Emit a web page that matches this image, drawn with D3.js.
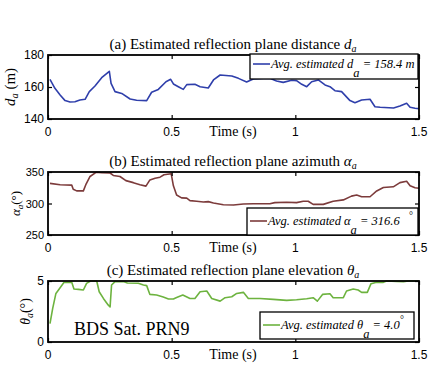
<!DOCTYPE html>
<html>
<head>
<meta charset="utf-8">
<script src="https://cdn.jsdelivr.net/npm/d3@7"></script>
<style>
  body { margin: 0; background: #fff; }
  text { fill: #000; }
  .tick-label { font-family: "Liberation Sans", Arial, sans-serif; font-size: 12px; }
  .serif { font-family: "Liberation Serif", "Times New Roman", serif; }
</style>
</head>
<body>
<div id="chart"></div>
<script>
// Time axis ticks shared by all three panels
var xTicks = [0, 0.5, 1, 1.5];
var xTickLabels = ["0", "0.5", "1", "1.5"];

// (a) reflection plane distance d_a (m)
var timeA = [0.008, 0.028, 0.049, 0.069, 0.089, 0.109, 0.129, 0.150, 0.167, 0.190, 0.217, 0.248, 0.255, 0.271, 0.298, 0.332, 0.358, 0.399, 0.419, 0.446, 0.477, 0.496, 0.507, 0.527, 0.547, 0.561, 0.594, 0.615, 0.648, 0.669, 0.696, 0.743, 0.770, 0.803, 0.830, 0.871, 0.897, 0.924, 0.951, 0.985, 1.005, 1.026, 1.046, 1.066, 1.093, 1.120, 1.140, 1.160, 1.187, 1.221, 1.241, 1.268, 1.302, 1.322, 1.343, 1.397, 1.423, 1.450, 1.464, 1.484, 1.500];
var distA = [164.8, 159.2, 155.0, 151.5, 150.6, 150.8, 151.9, 152.3, 157.1, 160.6, 165.8, 169.8, 162.3, 157.1, 156.0, 152.5, 151.7, 151.5, 156.7, 158.5, 163.3, 164.8, 161.9, 160.2, 158.5, 161.5, 161.7, 160.2, 159.4, 164.4, 167.5, 166.9, 165.4, 163.1, 165.0, 165.4, 165.4, 163.8, 162.9, 164.2, 164.0, 161.7, 160.2, 163.3, 164.4, 161.3, 160.2, 157.7, 157.1, 151.5, 150.2, 151.9, 152.3, 147.7, 147.3, 146.9, 148.1, 149.8, 147.3, 146.7, 146.5];
var yTicksA = [140, 160, 180];

// (b) reflection plane azimuth alpha_a (deg)
var timeB = [0.008, 0.049, 0.096, 0.102, 0.116, 0.143, 0.154, 0.170, 0.194, 0.217, 0.251, 0.264, 0.291, 0.315, 0.345, 0.372, 0.396, 0.412, 0.433, 0.453, 0.469, 0.498, 0.507, 0.520, 0.540, 0.561, 0.574, 0.601, 0.628, 0.648, 0.669, 0.709, 0.750, 0.790, 0.830, 0.897, 0.917, 0.965, 1.005, 1.032, 1.052, 1.072, 1.113, 1.153, 1.194, 1.227, 1.248, 1.268, 1.302, 1.329, 1.356, 1.396, 1.423, 1.450, 1.464, 1.484, 1.500];
var azimB = [332.0, 329.8, 329.2, 322.7, 320.0, 320.0, 330.9, 342.9, 349.5, 348.9, 348.4, 344.5, 342.9, 336.3, 333.1, 329.8, 327.6, 337.4, 340.2, 341.8, 345.6, 347.3, 328.1, 313.4, 309.0, 308.5, 304.6, 303.6, 302.5, 303.0, 300.8, 298.1, 297.5, 299.2, 299.7, 299.7, 301.4, 301.9, 301.4, 303.6, 303.6, 298.6, 298.6, 303.6, 305.7, 311.7, 313.4, 310.7, 310.7, 319.9, 325.4, 326.5, 333.1, 335.2, 328.1, 324.9, 324.3];
var yTicksB = [250, 300, 350];

// (c) reflection plane elevation theta_a (deg)
var timeC = [0.008, 0.019, 0.032, 0.049, 0.065, 0.096, 0.105, 0.123, 0.143, 0.156, 0.172, 0.197, 0.207, 0.224, 0.244, 0.251, 0.257, 0.271, 0.305, 0.321, 0.365, 0.386, 0.399, 0.412, 0.439, 0.466, 0.487, 0.507, 0.520, 0.545, 0.574, 0.594, 0.615, 0.642, 0.662, 0.696, 0.716, 0.743, 0.763, 0.790, 0.810, 0.857, 0.911, 0.965, 1.005, 1.046, 1.072, 1.089, 1.110, 1.140, 1.153, 1.194, 1.207, 1.234, 1.254, 1.268, 1.291, 1.306, 1.329, 1.356, 1.369, 1.410, 1.437, 1.457, 1.500];
var elevC = [1.51, 2.75, 3.98, 4.45, 4.89, 4.89, 4.34, 4.31, 4.26, 4.81, 5.0, 5.0, 4.12, 3.57, 3.02, 2.88, 4.67, 4.95, 4.95, 4.84, 4.81, 4.67, 4.62, 3.90, 3.85, 3.68, 3.52, 3.52, 3.65, 3.85, 3.57, 3.57, 4.12, 4.18, 3.57, 3.35, 3.63, 3.71, 3.98, 4.07, 3.57, 3.57, 3.49, 3.41, 3.46, 3.54, 3.63, 3.35, 3.90, 3.96, 3.63, 3.63, 4.18, 4.34, 4.26, 4.07, 4.07, 4.78, 4.89, 4.89, 5.0, 4.97, 4.95, 5.0, 5.0];
var yTicksC = [0, 5];

var svgWidth = 428;
var svgHeight = 366;

var svg = d3.select("#chart")
    .append("svg")
    .attr("width", svgWidth)
    .attr("height", svgHeight);

var left = 48, right = 419;

var xScale = d3.scaleLinear()
    .domain([0, 1.5])
    .range([left, right]);

function drawPanel(p) {
    var yScale = d3.scaleLinear()
        .domain(p.yDomain)
        .range([p.bottom, p.top]);

    var g = svg.append("g");

    // curve
    var line = d3.line()
        .x(function(d) { return xScale(d[0]); })
        .y(function(d) { return yScale(d[1]); });
    g.append("path")
        .datum(d3.zip(p.t, p.v))
        .attr("d", line)
        .attr("fill", "none")
        .attr("stroke", p.color)
        .attr("stroke-width", 1.6)
        .attr("stroke-linejoin", "round");

    // axes: inward ticks on all four sides (box on)
    g.append("g")
        .attr("transform", "translate(0," + p.bottom + ")")
        .call(d3.axisBottom(xScale).tickValues(xTicks).tickSize(-4).tickFormat(""));
    g.append("g")
        .attr("transform", "translate(0," + p.top + ")")
        .call(d3.axisTop(xScale).tickValues(xTicks).tickSize(-4).tickFormat(""));
    g.append("g")
        .attr("transform", "translate(" + left + ",0)")
        .call(d3.axisLeft(yScale).tickValues(p.yTicks).tickSize(-4).tickFormat(""));
    g.append("g")
        .attr("transform", "translate(" + right + ",0)")
        .call(d3.axisRight(yScale).tickValues(p.yTicks).tickSize(-4).tickFormat(""));
    g.selectAll(".domain").remove();
    g.selectAll(".tick line").attr("stroke", "#000").attr("stroke-width", 1.2);

    g.append("rect")
        .attr("x", left)
        .attr("y", p.top)
        .attr("width", right - left)
        .attr("height", p.bottom - p.top)
        .attr("fill", "none")
        .attr("stroke", "#000")
        .attr("stroke-width", 1.8);

    // tick labels
    g.selectAll(".xlab")
        .data(xTicks)
        .enter()
        .append("text")
        .attr("class", "tick-label")
        .attr("x", function(d) { return xScale(d); })
        .attr("y", p.bottom + 17)
        .attr("text-anchor", "middle")
        .text(function(d, i) { return xTickLabels[i]; });

    g.selectAll(".ylab")
        .data(p.yTicks)
        .enter()
        .append("text")
        .attr("class", "tick-label")
        .attr("x", left - 4)
        .attr("y", function(d) { return yScale(d) + 4; })
        .attr("text-anchor", "end")
        .style("font-size", p.yTickSize + "px")
        .text(function(d) { return d; });

    // x label sits on the tick label row
    g.append("text")
        .attr("class", "serif")
        .attr("x", 233)
        .attr("y", p.bottom + 17)
        .attr("text-anchor", "middle")
        .style("font-size", "14px")
        .text("Time (s)");

    // title
    var title = g.append("text")
        .attr("class", "serif")
        .attr("x", 233)
        .attr("y", p.top - 6)
        .attr("text-anchor", "middle")
        .style("font-size", "15px");
    title.append("tspan").text(p.title + " ");
    title.append("tspan").style("font-style", "italic").text(p.sym);
    title.append("tspan").attr("dy", 3).style("font-size", "10px").style("font-style", "italic").text("a");

    // y label
    var ylab = g.append("text")
        .attr("class", "serif")
        .attr("transform", "translate(" + p.ylabX + "," + ((p.top + p.bottom) / 2) + ") rotate(-90)")
        .attr("text-anchor", "middle")
        .style("font-size", p.ylabSize + "px");
    ylab.append("tspan").style("font-style", "italic").text(p.sym);
    ylab.append("tspan").attr("dy", 3).style("font-size", (p.ylabSize * 0.7) + "px").style("font-style", "italic").text("a");
    ylab.append("tspan").attr("dy", -3).text(p.unit);

    // legend
    var lg = p.legend;
    g.append("rect")
        .attr("x", lg.x0)
        .attr("y", lg.y0)
        .attr("width", lg.x1 - lg.x0)
        .attr("height", lg.y1 - lg.y0)
        .attr("fill", "#fff")
        .attr("stroke", "#000")
        .attr("stroke-width", 1.3);
    g.append("line")
        .attr("x1", lg.x0 + 3)
        .attr("x2", lg.x0 + 20)
        .attr("y1", lg.lineY)
        .attr("y2", lg.lineY)
        .attr("stroke", p.color)
        .attr("stroke-width", 1.6);
    var lt = g.append("text")
        .attr("class", "serif")
        .attr("x", lg.x0 + 21)
        .attr("y", lg.lineY + 4)
        .style("font-size", "12.5px")
        .style("font-style", "italic");
    lt.append("tspan").text("Avg. estimated " + p.sym);
    lt.append("tspan").attr("dy", 9).text("a");
    lt.append("tspan").attr("dy", -9).text(" = " + lg.value);
    if (lg.degX) {
        g.append("text")
            .attr("class", "serif")
            .attr("x", lg.degX)
            .attr("y", lg.lineY - 2)
            .style("font-size", "10px")
            .text("\u00b0");
    }
}

drawPanel({
    t: timeA, v: distA, color: "#2f3fab",
    yDomain: [140, 180], yTicks: yTicksA, yTickSize: 12,
    top: 55, bottom: 119,
    title: "(a) Estimated reflection plane distance", sym: "d", unit: " (m)",
    ylabX: 15, ylabSize: 15,
    legend: { x0: 250, x1: 418, y0: 54, y1: 79, lineY: 64, value: "158.4 m" }
});

drawPanel({
    t: timeB, v: azimB, color: "#7c3b3b",
    yDomain: [250, 350], yTicks: yTicksB, yTickSize: 11,
    top: 172, bottom: 235,
    title: "(b) Estimated reflection plane azimuth", sym: "\u03b1", unit: "(\u00b0)",
    ylabX: 20, ylabSize: 13,
    legend: { x0: 247, x1: 418, y0: 208, y1: 235, lineY: 221, value: "316.6", degX: 409 }
});

drawPanel({
    t: timeC, v: elevC, color: "#6db33f",
    yDomain: [0, 5], yTicks: yTicksC, yTickSize: 12,
    top: 281, bottom: 342,
    title: "(c) Estimated reflection plane elevation", sym: "\u03b8", unit: "(\u00b0)",
    ylabX: 30, ylabSize: 14,
    legend: { x0: 260, x1: 414, y0: 312, y1: 339, lineY: 325, value: "4.0", degX: 400 }
});

svg.append("text")
    .attr("class", "serif")
    .attr("x", 74)
    .attr("y", 335)
    .style("font-size", "18px")
    .text("BDS Sat. PRN9");
</script>
</body>
</html>
